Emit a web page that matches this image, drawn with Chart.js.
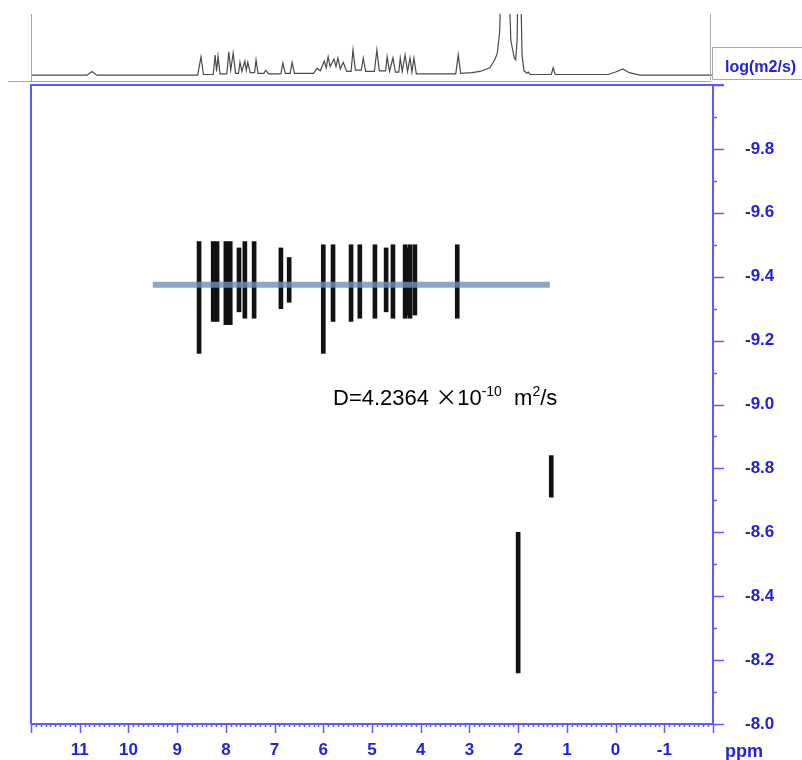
<!DOCTYPE html>
<html>
<head>
<meta charset="utf-8">
<script src="https://cdn.jsdelivr.net/npm/chart.js@4.4.0/dist/chart.umd.min.js"></script>
<style>
  body { margin: 0; background: #fff; }
  #wrap { position: relative; width: 802px; height: 760px; }
  canvas { position: absolute; left: 0; top: 0; }
</style>
</head>
<body>
<div id="wrap">
  <canvas id="mainChart" width="802" height="760"></canvas>
  <canvas id="specChart" width="802" height="85"></canvas>
</div>
<script>
// 1H trace shown above the DOSY map (ppm, intensity)
const specPpm = [12.0, 10.85, 10.75, 10.65, 8.58, 8.51, 8.46, 8.26, 8.22, 8.19, 8.16, 8.12,
  7.98, 7.94, 7.90, 7.85, 7.80, 7.74, 7.71, 7.67, 7.61, 7.58, 7.55, 7.50, 7.41, 7.38, 7.34,
  7.22, 7.18, 7.12, 6.87, 6.83, 6.78, 6.68, 6.64, 6.59, 6.20, 6.13, 6.06, 5.98, 5.94, 5.90,
  5.86, 5.78, 5.74, 5.70, 5.65, 5.59, 5.52, 5.43, 5.39, 5.34, 5.22, 5.18, 5.13, 4.95, 4.90,
  4.85, 4.72, 4.69, 4.64, 4.57, 4.52, 4.45, 4.42, 4.38, 4.32, 4.27, 4.22, 4.18, 4.14, 4.09,
  3.28, 3.23, 3.18, 2.95, 2.78, 2.58, 2.48, 2.43, 2.38, 2.33, 2.21, 2.15, 2.08, 2.05, 2.02,
  2.00, 1.96, 1.92, 1.88, 1.82, 1.79, 1.75, 1.32, 1.28, 1.24, 0.15, 0.0, -0.15, -0.28, -0.5, -2.0];
const specInt = [0, 0, 6, 0, 0, 30, 1, 1, 33, 6, 31, 2,
  2, 38, 8, 36, 3, 3, 21, 6, 23, 8, 21, 4, 4, 25, 3,
  3, 8, 2, 2, 20, 3, 3, 21, 3, 3, 11, 7, 23, 12, 30,
  14, 26, 14, 28, 10, 21, 6, 6, 41, 8, 8, 28, 6, 6, 41,
  7, 7, 30, 6, 28, 5, 5, 28, 6, 33, 6, 28, 5, 28, 2,
  2, 33, 3, 4, 6, 12, 25, 35, 70, 200, 200, 57, 28, 25, 60,
  200, 200, 33, 7, 3, 5, 1, 1, 12, 1, 1, 5, 10, 4, 0, 0];

// DOSY cross peaks: chemical shift and log D extent of each contour
const peakPpm  = [8.55, 8.26, 8.22, 8.18, 8.00, 7.96, 7.91, 7.73, 7.61, 7.42, 6.87, 6.70, 6.00, 5.80,
  5.43, 5.25, 4.94, 4.71, 4.57, 4.32, 4.27, 4.22, 4.12, 3.25, 1.32, 2.00];
const peakLow  = [-9.51, -9.51, -9.50, -9.51, -9.51, -9.50, -9.51, -9.49, -9.51, -9.51, -9.49, -9.46, -9.50, -9.50,
  -9.50, -9.50, -9.50, -9.49, -9.50, -9.50, -9.49, -9.50, -9.50, -9.50, -8.84, -8.60];
const peakHigh = [-9.16, -9.26, -9.27, -9.26, -9.25, -9.26, -9.25, -9.29, -9.27, -9.27, -9.30, -9.32, -9.16, -9.26,
  -9.26, -9.27, -9.27, -9.29, -9.27, -9.27, -9.28, -9.27, -9.28, -9.27, -8.71, -8.16];

// fitted diffusion coefficient line
const fitPpm = [9.5, 1.35];
const fitLogD = [-9.375, -9.375];

const xTickLabels = [11, 10, 9, 8, 7, 6, 5, 4, 3, 2, 1, 0, -1];
const yTickLabels = [-9.8, -9.6, -9.4, -9.2, -9.0, -8.8, -8.6, -8.4, -8.2, -8.0];

const AXIS_BLUE = "#5b5bff";
const LABEL_BLUE = "#2020e6";
const FONT = "'Liberation Sans', Arial, sans-serif";

// frame, major/minor ticks and text drawn on the main map
const frameTicks = {
  id: "frameTicks",
  afterDraw(chart) {
    const { ctx, chartArea: a, scales: { x, y } } = chart;
    ctx.save();
    ctx.strokeStyle = AXIS_BLUE;
    ctx.lineWidth = 2;
    ctx.beginPath();
    ctx.moveTo(a.left, a.bottom); ctx.lineTo(a.left, a.top); ctx.lineTo(a.right + 11, a.top);
    ctx.moveTo(a.left, a.bottom); ctx.lineTo(a.right, a.bottom); ctx.lineTo(a.right, a.top);
    ctx.stroke();

    ctx.lineWidth = 1.5;
    ctx.beginPath();
    for (let i = -20; i <= 120; i++) {
      const px = Math.round(x.getPixelForValue(i / 10)) + 0.5;
      const len = i % 10 === 0 ? 9 : 3;
      ctx.moveTo(px, a.bottom); ctx.lineTo(px, a.bottom + len);
    }
    for (let i = -100; i <= -80; i++) {
      const py = Math.round(y.getPixelForValue(i / 10)) + 0.5;
      const len = i % 2 === 0 ? 11 : 4;
      ctx.moveTo(a.right, py); ctx.lineTo(a.right + len, py);
    }
    ctx.stroke();

    ctx.fillStyle = LABEL_BLUE;
    ctx.font = "bold 18px " + FONT;
    ctx.textBaseline = "alphabetic";
    ctx.fillText("ppm", 725, 757);

    // D annotation
    let tx = x.getPixelForValue(5.8), ty = y.getPixelForValue(-9.0);
    ctx.fillStyle = "#000";
    const big = "22px " + FONT, small = "14px " + FONT;
    const parts = [["D=4.2364 ", big, 0], ["\u00d7", "22px 'Noto Sans CJK SC'", 0], ["10", big, 0], ["-10", small, -9],
      ["  m", big, 0], ["2", small, -9], ["/s", big, 0]];
    parts.forEach(([t, f, dy]) => {
      ctx.font = f;
      ctx.fillText(t, tx, ty + dy);
      tx += ctx.measureText(t).width;
    });
    ctx.restore();
  }
};

new Chart(document.getElementById("mainChart"), {
  type: "bar",
  data: {
    datasets: [
      {
        type: "line",
        data: fitPpm.map((p, i) => ({ x: p, y: fitLogD[i] })),
        borderColor: "rgba(110,145,185,0.8)",
        borderWidth: 6,
        pointRadius: 0,
        order: 0
      },
      {
        type: "bar",
        data: peakPpm.map((p, i) => ({ x: p, y: [peakLow[i], peakHigh[i]] })),
        backgroundColor: "#111",
        barThickness: 4,
        order: 1
      }
    ]
  },
  options: {
    responsive: false,
    animation: false,
    layout: { padding: { left: 31, top: 85, right: 0, bottom: 0 } },
    plugins: { legend: { display: false }, tooltip: { enabled: false } },
    scales: {
      x: {
        type: "linear", min: -2, max: 12, reverse: true, offset: false,
        grid: { display: false, drawTicks: false },
        border: { display: false },
        afterBuildTicks: s => { s.ticks = xTickLabels.map(v => ({ value: v })); },
        afterFit: s => { s.height = 36; },
        ticks: { padding: 16, color: LABEL_BLUE, autoSkip: false, maxRotation: 0,
          font: { family: FONT, size: 17, weight: "bold" }, callback: v => String(v) }
      },
      y: {
        type: "linear", position: "right", min: -10, max: -8, reverse: true,
        grid: { display: false, drawTicks: true, tickLength: 28 },
        border: { display: false },
        afterBuildTicks: s => { s.ticks = yTickLabels.map(v => ({ value: v })); },
        afterFit: s => { s.width = 89; },
        ticks: { padding: 4, color: LABEL_BLUE, autoSkip: false,
          font: { family: FONT, size: 17, weight: "bold" }, callback: v => v.toFixed(1) }
      }
    }
  },
  plugins: [frameTicks]
});

// gray frame and axis-title box of the 1D trace
const specFrame = {
  id: "specFrame",
  afterDraw(chart) {
    const { ctx, chartArea: a } = chart;
    ctx.save();
    ctx.strokeStyle = "#a8a8a8";
    ctx.lineWidth = 1;
    ctx.beginPath();
    ctx.moveTo(a.left + 0.5, a.top); ctx.lineTo(a.left + 0.5, 82);
    ctx.moveTo(a.right - 2.5, a.top); ctx.lineTo(a.right - 2.5, 80);
    ctx.moveTo(8, 81.5); ctx.lineTo(a.right - 2, 81.5);
    ctx.rect(712.5, 47.5, 95, 32);
    ctx.stroke();
    ctx.fillStyle = LABEL_BLUE;
    ctx.font = "bold 16px " + FONT;
    ctx.fillText("log(m2/s)", 725, 72);
    ctx.restore();
  }
};

new Chart(document.getElementById("specChart"), {
  type: "line",
  data: {
    datasets: [{
      data: specPpm.map((p, i) => ({ x: p, y: specInt[i] })),
      borderColor: "#4a4a4a",
      borderWidth: 1.2,
      pointRadius: 0,
      tension: 0
    }]
  },
  options: {
    responsive: false,
    animation: false,
    layout: { padding: { left: 31, right: 89, top: 14, bottom: 5 } },
    plugins: { legend: { display: false }, tooltip: { enabled: false } },
    scales: {
      x: { type: "linear", min: -2, max: 12, reverse: true, display: false },
      y: { type: "linear", min: -8, max: 100, display: false }
    }
  },
  plugins: [specFrame]
});
</script>
</body>
</html>
